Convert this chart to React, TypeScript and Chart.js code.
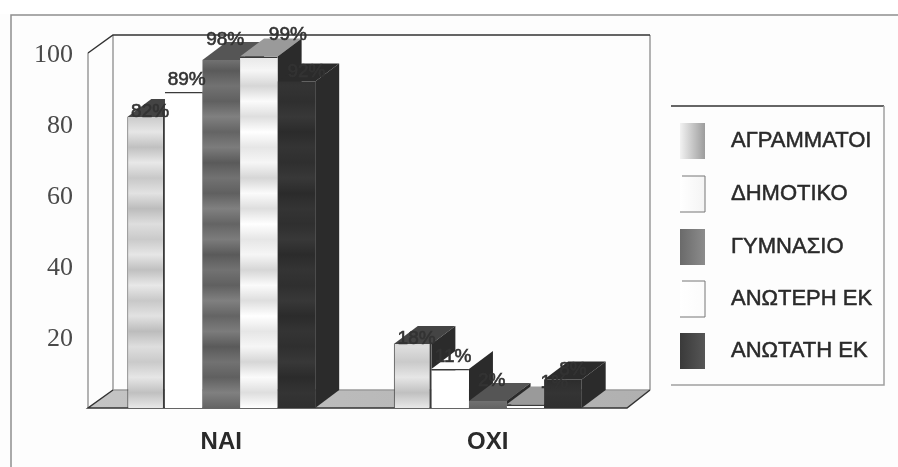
import React, { useEffect, useRef } from "react";
import { Chart, registerables } from "chart.js";

Chart.register(...registerables);

const categories = ["NAI", "OXI"];
const seriesNames = ["ΑΓΡΑΜΜΑΤΟΙ", "ΔΗΜΟΤΙΚΟ", "ΓΥΜΝΑΣΙΟ", "ΑΝΩΤΕΡΗ ΕΚ", "ΑΝΩΤΑΤΗ ΕΚ"];
const agrammatoi = [82, 18];
const dimotiko = [89, 11];
const gymnasio = [98, 2];
const anoteri = [99, 1];
const anotati = [92, 8];
const yTicks = [20, 40, 60, 80, 100];
const seriesValues = [agrammatoi, dimotiko, gymnasio, anoteri, anotati];

const bands = [
  ["#e8e8e8", "#c8c8c8", "#e2e2e2", "#bcbcbc", "#dedede", "#cacaca", "#e6e6e6", "#c0c0c0"],
  ["#ffffff", "#ffffff"],
  ["#646464", "#7c7c7c", "#5a5a5a", "#727272", "#606060", "#808080"],
  ["#ffffff", "#e6e6e6", "#f6f6f6", "#d6d6d6", "#fbfbfb", "#dedede"],
  ["#2f2f2f", "#383838", "#2b2b2b", "#343434"],
];
const topColors = ["#444444", "#fdfdfd", "#555555", "#9a9a9a", "#2b2b2b"];
const labelOffsets = [[4, -5], [3, -12], [4, -20], [29, -22], [10, -10]];
const swatches = [
  ["#f2f2f2", "#9c9c9c"],
  ["#ffffff", "#f4f4f4"],
  ["#6a6a6a", "#8c8c8c"],
  ["#ffffff", "#fbfbfb"],
  ["#3a3a3a", "#565656"],
];
const DX = 24;
const DY = 18;

function bandFill(chart: any, i: number) {
  const area = chart.chartArea;
  if (!area) return bands[i][0];
  const g = chart.ctx.createLinearGradient(0, 40, 0, area.bottom);
  const n = 24;
  for (let k = 0; k <= n; k++) g.addColorStop(k / n, bands[i][k % bands[i].length]);
  return g;
}

const scenePlugin = {
  id: "scene",
  beforeDraw(chart: any) {
    const { ctx, width, height } = chart;
    ctx.save();
    ctx.fillStyle = "#ffffff";
    ctx.fillRect(0, 0, width, 14);
    ctx.fillStyle = "#fdfdfd";
    ctx.fillRect(0, 14, width, height - 14);
    ctx.strokeStyle = "#8f8f8f";
    ctx.lineWidth = 1.5;
    ctx.beginPath();
    ctx.moveTo(11, height);
    ctx.lineTo(11, 15);
    ctx.lineTo(width, 15);
    ctx.stroke();
    ctx.restore();
  },
  beforeDatasetsDraw(chart: any) {
    const { ctx, chartArea: a } = chart;
    const rFront = a.right + 6;
    const rBack = rFront + 23;
    ctx.save();
    const fg = ctx.createLinearGradient(a.left, 0, rBack, 0);
    fg.addColorStop(0, "#c4c4c4");
    fg.addColorStop(1, "#b0b0b0");
    ctx.fillStyle = fg;
    ctx.beginPath();
    ctx.moveTo(a.left, a.bottom);
    ctx.lineTo(a.left + 25, a.bottom - DY);
    ctx.lineTo(rBack, a.bottom - DY);
    ctx.lineTo(rFront, a.bottom);
    ctx.closePath();
    ctx.fill();
    ctx.strokeStyle = "#9a9a9a";
    ctx.lineWidth = 1.5;
    ctx.beginPath();
    ctx.moveTo(a.left, a.bottom);
    ctx.lineTo(a.left, a.top);
    ctx.moveTo(a.left + 25, a.top - DY);
    ctx.lineTo(a.left + 25, a.bottom - DY);
    ctx.lineTo(rBack, a.bottom - DY);
    ctx.moveTo(rBack, a.top - DY);
    ctx.lineTo(rBack, a.bottom - DY);
    ctx.stroke();
    ctx.strokeStyle = "#333333";
    ctx.beginPath();
    ctx.moveTo(a.left, a.top);
    ctx.lineTo(a.left + 25, a.top - DY);
    ctx.lineTo(rBack, a.top - DY);
    ctx.moveTo(rBack, a.bottom - DY);
    ctx.lineTo(rFront, a.bottom);
    ctx.lineTo(a.left, a.bottom);
    ctx.lineTo(a.left + 25, a.bottom - DY);
    ctx.stroke();
    chart.data.datasets.forEach((_: any, i: number) => {
      chart.getDatasetMeta(i).data.forEach((bar: any) => {
        const half = bar.width / 2;
        const l = bar.x - half;
        const r = bar.x + half;
        ctx.fillStyle = topColors[i];
        ctx.beginPath();
        ctx.moveTo(l, bar.y);
        ctx.lineTo(l + DX, bar.y - DY);
        ctx.lineTo(r + DX, bar.y - DY);
        ctx.lineTo(r, bar.y);
        ctx.closePath();
        ctx.fill();
        ctx.fillStyle = "#2b2b2b";
        ctx.beginPath();
        ctx.moveTo(r, bar.y);
        ctx.lineTo(r + DX, bar.y - DY);
        ctx.lineTo(r + DX, bar.base - DY);
        ctx.lineTo(r, bar.base);
        ctx.closePath();
        ctx.fill();
      });
    });
    ctx.restore();
  },
  afterDatasetsDraw(chart: any) {
    const { ctx } = chart;
    ctx.save();
    ctx.font = '19px "Liberation Sans"';
    ctx.fillStyle = "#333333";
    ctx.strokeStyle = "#333333";
    ctx.lineWidth = 0.6;
    ctx.textAlign = "center";
    ctx.textBaseline = "middle";
    chart.data.datasets.forEach((_: any, i: number) => {
      chart.getDatasetMeta(i).data.forEach((bar: any, j: number) => {
        const [ox, oy] = labelOffsets[i];
        const t = `${seriesValues[i][j]}%`;
        ctx.fillText(t, bar.x + ox, bar.y + oy);
        ctx.strokeText(t, bar.x + ox, bar.y + oy);
      });
    });
    ctx.strokeStyle = "#333333";
    ctx.lineWidth = 1.5;
    ctx.beginPath();
    ctx.moveTo(671, 106);
    ctx.lineTo(884, 106);
    ctx.stroke();
    ctx.strokeStyle = "#a0a0a0";
    ctx.beginPath();
    ctx.moveTo(884, 106);
    ctx.lineTo(884, 385);
    ctx.lineTo(671, 385);
    ctx.stroke();
    const rows = [123, 176, 229, 281, 333];
    ctx.textAlign = "left";
    ctx.font = '22px "Liberation Sans"';
    chart.data.datasets.forEach((ds: any, i: number) => {
      const y = rows[i];
      const g = ctx.createLinearGradient(680, 0, 705, 0);
      g.addColorStop(0, swatches[i][0]);
      g.addColorStop(1, swatches[i][1]);
      ctx.fillStyle = g;
      ctx.fillRect(680, y, 25, 36);
      if (i === 1 || i === 3) {
        ctx.strokeStyle = "#777777";
        ctx.lineWidth = 1;
        ctx.beginPath();
        ctx.moveTo(682, y);
        ctx.lineTo(705, y);
        ctx.lineTo(705, y + 36);
        ctx.lineTo(680, y + 36);
        ctx.stroke();
      }
      ctx.fillStyle = "#2a2a2a";
      ctx.strokeStyle = "#2a2a2a";
      ctx.lineWidth = 0.5;
      ctx.fillText(ds.label, 731, y + 18);
      ctx.strokeText(ds.label, 731, y + 18);
    });
    ctx.restore();
  },
};

export default function App() {
  const ref = useRef<HTMLCanvasElement | null>(null);
  useEffect(() => {
    const chart = new Chart(ref.current!, {
      type: "bar",
      data: {
        labels: categories,
        datasets: seriesNames.map((label, i) => ({
          label,
          data: seriesValues[i],
          backgroundColor: (c: any) => bandFill(c.chart, i),
          borderColor: "#3a3a3a",
          borderWidth: i === 0 ? { left: 1, right: 2 } : i === 1 || i === 3 ? { top: 1.5 } : 0,
          borderSkipped: false,
          categoryPercentage: 0.705,
          barPercentage: 1,
        })),
      },
      options: {
        responsive: false,
        animation: false,
        layout: { padding: { top: 53, left: 0, right: 277, bottom: 0 } },
        plugins: { legend: { display: false }, tooltip: { enabled: false } },
        scales: {
          x: {
            grid: { display: false, drawTicks: false },
            border: { display: false },
            ticks: {
              padding: 20,
              color: "#2a2a2a",
              font: { family: "Liberation Sans", size: 24, weight: "bold" },
              maxRotation: 0,
            },
            afterFit: (s: any) => { s.height = 59; },
          },
          y: {
            min: 0,
            max: 100,
            afterBuildTicks: (s: any) => { s.ticks = yTicks.map((value) => ({ value })); },
            grid: { display: false, drawTicks: false },
            border: { display: false },
            ticks: {
              padding: 15,
              labelOffset: 2,
              color: "#4a4a4a",
              font: { family: "Liberation Serif", size: 26 },
            },
            afterFit: (s: any) => { s.width = 88; },
          },
        },
      },
      plugins: [scenePlugin],
    } as any);
    return () => chart.destroy();
  }, []);
  return (
    <div style={{ position: "fixed", left: 0, top: 0, width: 898, height: 467 }}>
      <canvas ref={ref} width={898} height={467} style={{ display: "block", filter: "blur(0.5px)" }} />
    </div>
  );
}
